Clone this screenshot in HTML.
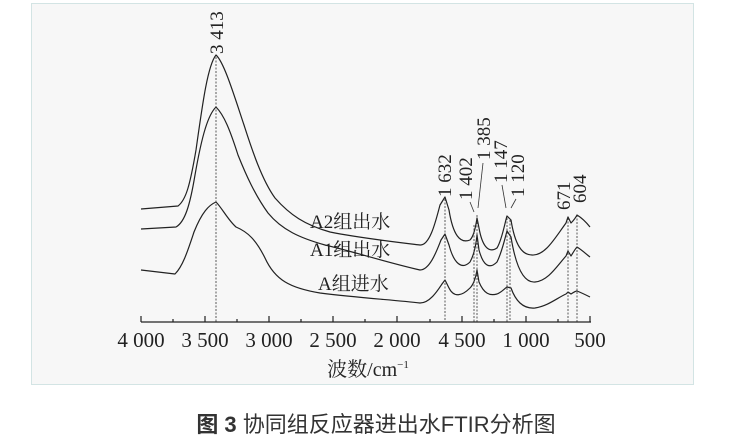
<!DOCTYPE html>
<html><head><meta charset="utf-8"><style>
body{margin:0;background:#fff;width:739px;height:440px;overflow:hidden}
svg{display:block}
</style></head><body>
<svg width="739" height="440" viewBox="0 0 739 440">
<rect x="31.5" y="3.5" width="662" height="381" fill="#f7f7f7" stroke="#d3e4e4"/>
<g fill="none" stroke="#222" stroke-width="1.2" stroke-linejoin="round">
<path d="M141,209 L178,206 C186,200 190,185 196,150 C203,100 208,65 216,55 C224,62 234,95 244,125 C252,150 262,180 275,198 C290,215 305,225 330,232 C360,238 395,242 420,245 C430,246 436,220 440,205 L445,197 L449,210 C453,235 460,244 470,240 C474,236 476,225 477,218 L479,228 C482,245 488,254 497,248 C502,240 505,222 507,216 L511,220 C515,245 522,255 532,255 C545,256 555,238 566,223 L568,217 L571,223 C574,220 576,217 577,215 C582,218 586,222 590,227"/>
<path d="M141,229 L176,227 C185,222 190,205 195,175 C202,135 208,115 216,107 C224,115 230,130 238,155 C246,175 255,195 268,213 C282,230 300,238 325,245 C355,252 385,262 420,270 C430,270 437,250 441,240 L445,234 L449,245 C454,264 462,270 470,262 C474,255 476,245 477,235 L479,250 C483,265 489,270 497,262 C502,252 505,238 507,231 L511,237 C516,268 524,283 535,282 C548,281 557,266 566,256 L568,251 L571,256 C574,251 576,248 577,247 C582,250 586,254 590,257"/>
<path d="M141,270 L175,274 C183,266 188,250 194,232 C202,212 209,205 216,202 C222,208 228,220 236,227 C248,232 256,240 265,258 C275,280 290,288 320,293 C360,298 395,300 420,303 C430,303 438,290 442,284 L445,280 L449,288 C454,298 462,296 470,288 C474,284 476,276 477,270 L479,282 C484,294 490,296 497,294 C502,292 505,288 507,287 L511,288 C516,302 524,309 535,308 C548,306 557,298 566,294 L568,292 L571,294 C574,292 576,291 577,291 C582,293 586,295 590,297"/>
</g>
<g stroke="#333" stroke-width="0.8" stroke-dasharray="2,1.5" fill="none">
<line x1="216" y1="57" x2="216" y2="322"/>
<line x1="445" y1="199" x2="445" y2="322"/>
<line x1="474" y1="225" x2="474" y2="322"/>
<line x1="477" y1="215" x2="477" y2="322"/>
<line x1="507" y1="218" x2="507" y2="322"/>
<line x1="510" y1="220" x2="510" y2="322"/>
<line x1="568" y1="218" x2="568" y2="322"/>
<line x1="577" y1="215" x2="577" y2="322"/>
</g>
<g stroke="#333" stroke-width="0.8">
<line x1="474" y1="212" x2="470" y2="202"/>
<line x1="478" y1="208" x2="483" y2="163"/>
<line x1="506" y1="208" x2="502" y2="185"/>
<line x1="511" y1="208" x2="516" y2="199"/>
</g>
<g stroke="#222" stroke-width="1.2">
<line x1="141" y1="322" x2="591" y2="322"/>
<line x1="141" y1="316" x2="141" y2="322"/><line x1="205" y1="316" x2="205" y2="322"/>
<line x1="269" y1="316" x2="269" y2="322"/><line x1="333" y1="316" x2="333" y2="322"/>
<line x1="397" y1="316" x2="397" y2="322"/><line x1="462" y1="316" x2="462" y2="322"/>
<line x1="526" y1="316" x2="526" y2="322"/><line x1="590" y1="316" x2="590" y2="322"/>
<line x1="173" y1="319" x2="173" y2="322"/><line x1="237" y1="319" x2="237" y2="322"/>
<line x1="301" y1="319" x2="301" y2="322"/><line x1="365" y1="319" x2="365" y2="322"/>
<line x1="430" y1="319" x2="430" y2="322"/><line x1="494" y1="319" x2="494" y2="322"/>
<line x1="558" y1="319" x2="558" y2="322"/>
</g>
<g font-family="Liberation Serif, Noto Serif CJK SC, serif" font-size="21" fill="#222" text-anchor="middle">
<text x="141" y="347">4 000</text><text x="205" y="347">3 500</text>
<text x="269" y="347">3 000</text><text x="333" y="347">2 500</text>
<text x="397" y="347">2 000</text><text x="462" y="347">4 500</text>
<text x="526" y="347">1 000</text><text x="590" y="347">500</text>
<text x="368" y="376" font-size="20">波数/cm<tspan font-size="11" dy="-8">−1</tspan></text>
</g>
<g font-family="Liberation Serif, Noto Serif CJK SC, serif" font-size="19" fill="#222">
<text x="310" y="228">A2组出水</text>
<text x="310" y="256">A1组出水</text>
<text x="318" y="290">A组进水</text>
</g>
<g font-family="Liberation Serif, serif" font-size="19" fill="#222">
<text transform="translate(223,54) rotate(-90)">3 413</text>
<text transform="translate(451,197) rotate(-90)">1 632</text>
<text transform="translate(472,200) rotate(-90)">1 402</text>
<text transform="translate(490,160) rotate(-90)">1 385</text>
<text transform="translate(507,183) rotate(-90)">1 147</text>
<text transform="translate(524,197) rotate(-90)">1 120</text>
<text transform="translate(570,210) rotate(-90)">671</text>
<text transform="translate(586,203) rotate(-90)">604</text>
</g>
<text x="376" y="432" text-anchor="middle" font-family="Liberation Sans, Noto Sans CJK SC, sans-serif" font-size="22" fill="#333"><tspan font-weight="bold">图 3</tspan>  协同组反应器进出水FTIR分析图</text>
</svg>
</body></html>
